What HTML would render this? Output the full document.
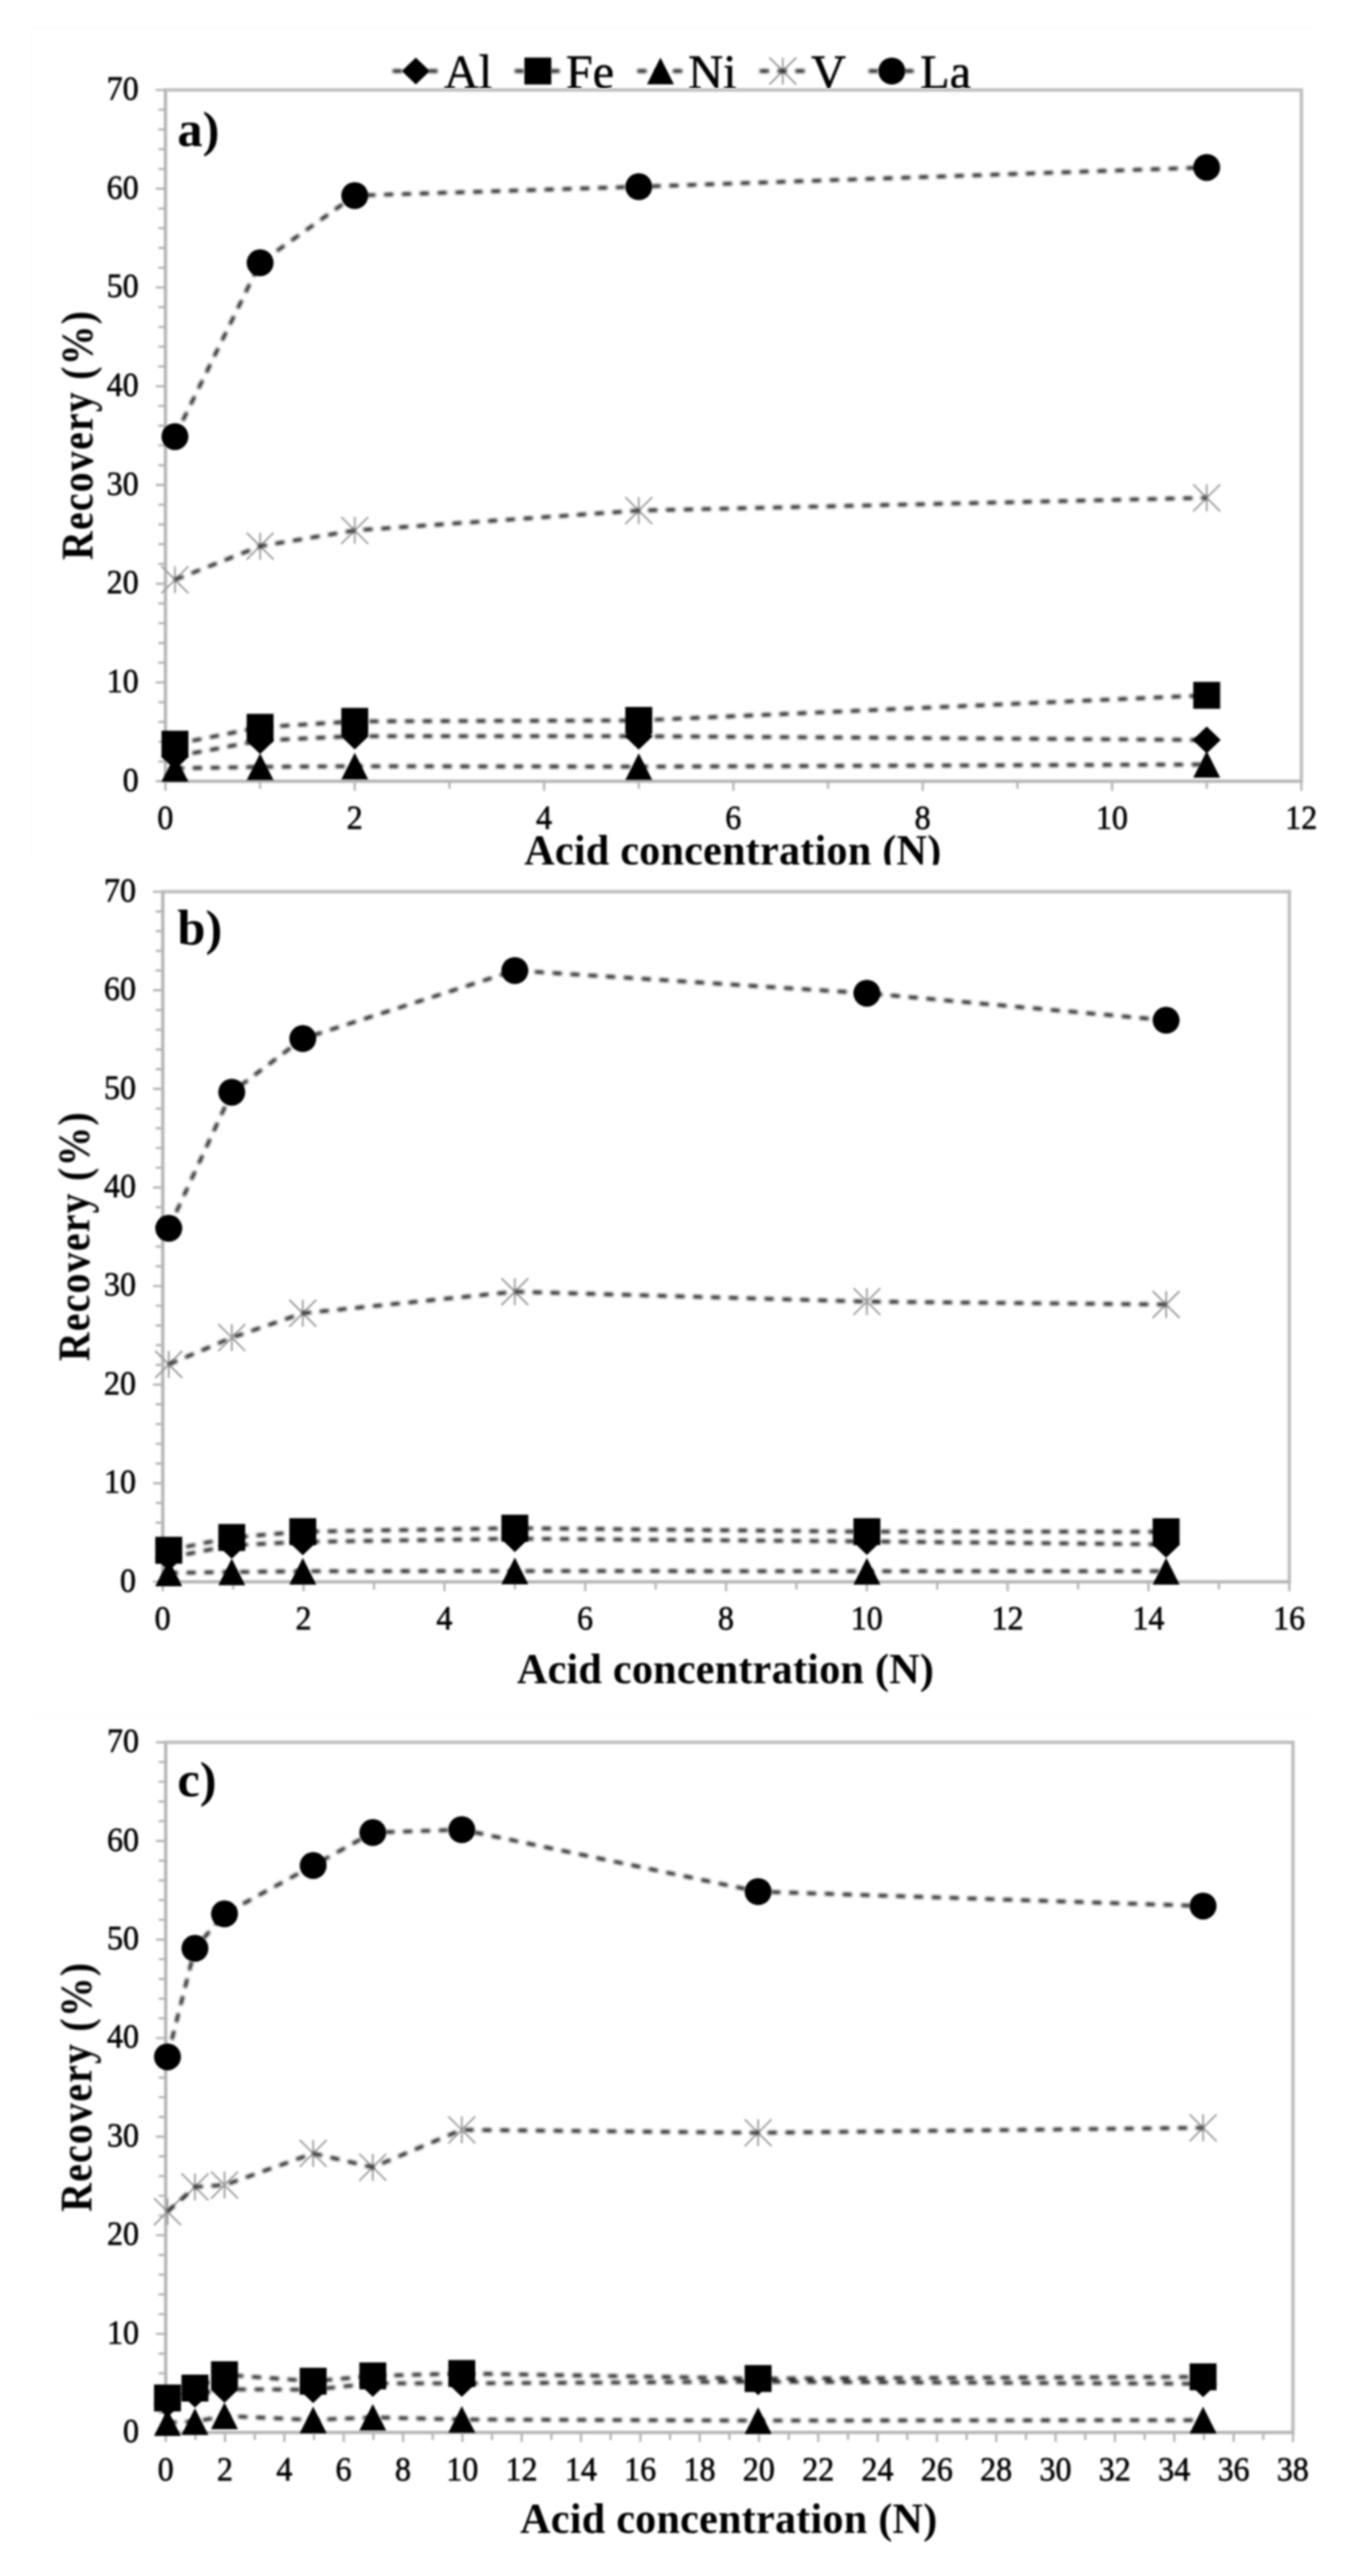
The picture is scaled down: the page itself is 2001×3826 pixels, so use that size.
<!DOCTYPE html>
<html lang="en"><head><meta charset="utf-8"><title>Recovery vs acid concentration</title>
<style>
html,body{margin:0;padding:0;background:#fff}
body{width:2001px;height:3826px;overflow:hidden}
svg{display:block}
.g1{filter:blur(1.7px)}
.g2{filter:blur(1.9px)}
text{font-family:"Liberation Serif","Times New Roman",Times,serif;fill:#000}
.tk{font-size:50px;fill:#000;stroke:#000;stroke-width:.9px}
.tt{font-size:62.5px;font-weight:bold;letter-spacing:.4px}
.pn{font-size:75px;font-weight:bold}
.lg{font-size:71.5px;stroke:#000;stroke-width:.8px}
.ax{stroke:#c0c0c0;stroke-width:5.2;fill:none}
.tc{stroke:#b6b6b6;stroke-width:3.4;fill:none}
.ln{stroke:#262626;stroke-width:5.3;stroke-dasharray:13.6 12.9;fill:none}
</style></head><body>
<svg width="2001" height="3826" viewBox="0 0 2001 3826">
<rect width="2001" height="3826" fill="#fff"/>
<defs><clipPath id="clipA"><rect x="0" y="0" width="2001" height="1284.5"/></clipPath><clipPath id="clipL"><rect x="0" y="0" width="2001" height="131.5"/></clipPath></defs>
<g class="g1" clip-path="url(#clipL)">
<path d="M1162.9 85.5V125.5 M1142.9 85.5L1182.9 125.5 M1142.9 125.5L1182.9 85.5" stroke="#9c9c9c" stroke-width="2.6" fill="none"/>
</g>
<g class="g2" clip-path="url(#clipL)">
<path class="ln" d="M583.4 105.5H651.4"/>
<path class="ln" d="M764.7 105.5H832.7"/>
<path class="ln" d="M946.8 105.5H1014.8"/>
<path class="ln" d="M1128.6 105.5H1196.6"/>
<path class="ln" d="M1290.5 105.5H1358.5"/>
</g>
<g class="g1" clip-path="url(#clipL)">
<path d="M617.7 85.5L638.5 105.5L617.7 125.5L596.9 105.5Z" fill="#000"/>
<rect x="779" y="85.5" width="40" height="40" fill="#000"/>
<path d="M981.1 85.5L1001.1 125.2L961.1 125.2Z" fill="#000"/>
<circle cx="1324.8" cy="105.5" r="20" fill="#000"/>
<text class="lg" x="659.5" y="130.5">Al</text>
<text class="lg" x="840.8" y="130.5">Fe</text>
<text class="lg" x="1022.5" y="130.5">Ni</text>
<text class="lg" x="1205" y="130.5">V</text>
<text class="lg" x="1367" y="130.5">La</text>
</g>
<g class="g1">
<g fill="none" stroke="#fcfcfc" stroke-width="1.6"><path d="M1957 41.6H47V1283"/><path d="M1957 2548.5H46.4V3800"/></g>
<rect class="ax" x="245.8" y="133.6" width="1687.4" height="1026.7"/>
<path d="M245.8 133.6V1160.3H1933.2" stroke="#adadad" stroke-width="1.8" fill="none"/>
<path class="tc" d="M231.3 1160.3H245.8M235.3 1131H245.8M235.3 1101.6H245.8M235.3 1072.3H245.8M235.3 1043H245.8M231.3 1013.6H245.8M235.3 984.3H245.8M235.3 955H245.8M235.3 925.6H245.8M235.3 896.3H245.8M231.3 867H245.8M235.3 837.6H245.8M235.3 808.3H245.8M235.3 779H245.8M235.3 749.6H245.8M231.3 720.3H245.8M235.3 691H245.8M235.3 661.6H245.8M235.3 632.3H245.8M235.3 602.9H245.8M231.3 573.6H245.8M235.3 544.3H245.8M235.3 514.9H245.8M235.3 485.6H245.8M235.3 456.3H245.8M231.3 426.9H245.8M235.3 397.6H245.8M235.3 368.3H245.8M235.3 338.9H245.8M235.3 309.6H245.8M231.3 280.3H245.8M235.3 250.9H245.8M235.3 221.6H245.8M235.3 192.3H245.8M235.3 162.9H245.8M231.3 133.6H245.8M245.8 1160.3V1174.5M386.4 1160.3V1171.6M527 1160.3V1174.5M667.7 1160.3V1171.6M808.3 1160.3V1174.5M948.9 1160.3V1171.6M1089.5 1160.3V1174.5M1230.1 1160.3V1171.6M1370.7 1160.3V1174.5M1511.4 1160.3V1171.6M1652 1160.3V1174.5M1792.6 1160.3V1171.6M1933.2 1160.3V1174.5"/>
<rect class="ax" x="241.8" y="1324.4" width="1673.5" height="1025"/>
<path d="M241.8 1324.4V2349.4H1915.3" stroke="#adadad" stroke-width="1.8" fill="none"/>
<path class="tc" d="M227.3 2349.4H241.8M231.3 2320.1H241.8M231.3 2290.8H241.8M231.3 2261.5H241.8M231.3 2232.3H241.8M227.3 2203H241.8M231.3 2173.7H241.8M231.3 2144.4H241.8M231.3 2115.1H241.8M231.3 2085.8H241.8M227.3 2056.5H241.8M231.3 2027.3H241.8M231.3 1998H241.8M231.3 1968.7H241.8M231.3 1939.4H241.8M227.3 1910.1H241.8M231.3 1880.8H241.8M231.3 1851.5H241.8M231.3 1822.3H241.8M231.3 1793H241.8M227.3 1763.7H241.8M231.3 1734.4H241.8M231.3 1705.1H241.8M231.3 1675.8H241.8M231.3 1646.5H241.8M227.3 1617.3H241.8M231.3 1588H241.8M231.3 1558.7H241.8M231.3 1529.4H241.8M231.3 1500.1H241.8M227.3 1470.8H241.8M231.3 1441.5H241.8M231.3 1412.3H241.8M231.3 1383H241.8M231.3 1353.7H241.8M227.3 1324.4H241.8M241.8 2349.4V2363.6M346.4 2349.4V2360.7M451 2349.4V2363.6M555.6 2349.4V2360.7M660.2 2349.4V2363.6M764.8 2349.4V2360.7M869.4 2349.4V2363.6M974 2349.4V2360.7M1078.6 2349.4V2363.6M1183.2 2349.4V2360.7M1287.8 2349.4V2363.6M1392.3 2349.4V2360.7M1496.9 2349.4V2363.6M1601.5 2349.4V2360.7M1706.1 2349.4V2363.6M1810.7 2349.4V2360.7M1915.3 2349.4V2363.6"/>
<rect class="ax" x="246.2" y="2587.8" width="1674.5" height="1025"/>
<path d="M246.2 2587.8V3612.8H1920.7" stroke="#adadad" stroke-width="1.8" fill="none"/>
<path class="tc" d="M231.7 3612.8H246.2M235.7 3583.5H246.2M235.7 3554.2H246.2M235.7 3524.9H246.2M235.7 3495.7H246.2M231.7 3466.4H246.2M235.7 3437.1H246.2M235.7 3407.8H246.2M235.7 3378.5H246.2M235.7 3349.2H246.2M231.7 3319.9H246.2M235.7 3290.7H246.2M235.7 3261.4H246.2M235.7 3232.1H246.2M235.7 3202.8H246.2M231.7 3173.5H246.2M235.7 3144.2H246.2M235.7 3114.9H246.2M235.7 3085.7H246.2M235.7 3056.4H246.2M231.7 3027.1H246.2M235.7 2997.8H246.2M235.7 2968.5H246.2M235.7 2939.2H246.2M235.7 2909.9H246.2M231.7 2880.7H246.2M235.7 2851.4H246.2M235.7 2822.1H246.2M235.7 2792.8H246.2M235.7 2763.5H246.2M231.7 2734.2H246.2M235.7 2704.9H246.2M235.7 2675.7H246.2M235.7 2646.4H246.2M235.7 2617.1H246.2M231.7 2587.8H246.2M246.2 3612.8V3627M290.3 3612.8V3624.1M334.3 3612.8V3627M378.4 3612.8V3624.1M422.5 3612.8V3627M466.5 3612.8V3624.1M510.6 3612.8V3627M554.7 3612.8V3624.1M598.7 3612.8V3627M642.8 3612.8V3624.1M686.9 3612.8V3627M730.9 3612.8V3624.1M775 3612.8V3627M819.1 3612.8V3624.1M863.1 3612.8V3627M907.2 3612.8V3624.1M951.3 3612.8V3627M995.3 3612.8V3624.1M1039.4 3612.8V3627M1083.5 3612.8V3624.1M1127.5 3612.8V3627M1171.6 3612.8V3624.1M1215.6 3612.8V3627M1259.7 3612.8V3624.1M1303.8 3612.8V3627M1347.8 3612.8V3624.1M1391.9 3612.8V3627M1436 3612.8V3624.1M1480 3612.8V3627M1524.1 3612.8V3624.1M1568.2 3612.8V3627M1612.2 3612.8V3624.1M1656.3 3612.8V3627M1700.4 3612.8V3624.1M1744.4 3612.8V3627M1788.5 3612.8V3624.1M1832.6 3612.8V3627M1876.6 3612.8V3624.1M1920.7 3612.8V3627"/>
<path d="M259.9 841.1V881.1 M239.9 841.1L279.9 881.1 M239.9 881.1L279.9 841.1" stroke="#9c9c9c" stroke-width="2.6" fill="none"/><path d="M386.4 791.2V831.2 M366.4 791.2L406.4 831.2 M366.4 831.2L406.4 791.2" stroke="#9c9c9c" stroke-width="2.6" fill="none"/><path d="M527 767.8V807.8 M507 767.8L547 807.8 M507 807.8L547 767.8" stroke="#9c9c9c" stroke-width="2.6" fill="none"/><path d="M948.9 738.3V778.3 M928.9 738.3L968.9 778.3 M928.9 778.3L968.9 738.3" stroke="#9c9c9c" stroke-width="2.6" fill="none"/><path d="M1792.6 719.4V759.4 M1772.6 719.4L1812.6 759.4 M1772.6 759.4L1812.6 719.4" stroke="#9c9c9c" stroke-width="2.6" fill="none"/>
<path d="M250.7 2006.5V2046.5 M230.7 2006.5L270.7 2046.5 M230.7 2046.5L270.7 2006.5" stroke="#9c9c9c" stroke-width="2.6" fill="none"/><path d="M344.3 1966.7V2006.7 M324.3 1966.7L364.3 2006.7 M324.3 2006.7L364.3 1966.7" stroke="#9c9c9c" stroke-width="2.6" fill="none"/><path d="M449.8 1930.5V1970.5 M429.8 1930.5L469.8 1970.5 M429.8 1970.5L469.8 1930.5" stroke="#9c9c9c" stroke-width="2.6" fill="none"/><path d="M764.8 1898.5V1938.5 M744.8 1898.5L784.8 1938.5 M744.8 1938.5L784.8 1898.5" stroke="#9c9c9c" stroke-width="2.6" fill="none"/><path d="M1287.8 1913.2V1953.2 M1267.8 1913.2L1307.8 1953.2 M1267.8 1953.2L1307.8 1913.2" stroke="#9c9c9c" stroke-width="2.6" fill="none"/><path d="M1732.3 1917.5V1957.5 M1712.3 1917.5L1752.3 1957.5 M1712.3 1957.5L1752.3 1917.5" stroke="#9c9c9c" stroke-width="2.6" fill="none"/>
<path d="M248.8 3264.8V3304.8 M228.8 3264.8L268.8 3304.8 M228.8 3304.8L268.8 3264.8" stroke="#9c9c9c" stroke-width="2.6" fill="none"/><path d="M289.6 3228.2V3268.2 M269.6 3228.2L309.6 3268.2 M269.6 3268.2L309.6 3228.2" stroke="#9c9c9c" stroke-width="2.6" fill="none"/><path d="M333.5 3225.3V3265.3 M313.5 3225.3L353.5 3265.3 M313.5 3265.3L353.5 3225.3" stroke="#9c9c9c" stroke-width="2.6" fill="none"/><path d="M465.2 3178.4V3218.4 M445.2 3178.4L485.2 3218.4 M445.2 3218.4L485.2 3178.4" stroke="#9c9c9c" stroke-width="2.6" fill="none"/><path d="M553.8 3198.9V3238.9 M533.8 3198.9L573.8 3238.9 M533.8 3238.9L573.8 3198.9" stroke="#9c9c9c" stroke-width="2.6" fill="none"/><path d="M686 3143.3V3183.3 M666 3143.3L706 3183.3 M666 3183.3L706 3143.3" stroke="#9c9c9c" stroke-width="2.6" fill="none"/><path d="M1126.2 3147.7V3187.7 M1106.2 3147.7L1146.2 3187.7 M1106.2 3187.7L1146.2 3147.7" stroke="#9c9c9c" stroke-width="2.6" fill="none"/><path d="M1787.2 3140.3V3180.3 M1767.2 3140.3L1807.2 3180.3 M1767.2 3180.3L1807.2 3140.3" stroke="#9c9c9c" stroke-width="2.6" fill="none"/>
</g>
<g class="g2">
<path class="ln" d="M259.9 1123.6L386.4 1099.9L527 1093.3L948.9 1093.4L1792.6 1099"/>
<path class="ln" d="M259.9 1105.3L386.4 1080.2L527 1071.4L948.9 1070L1792.6 1032.7"/>
<path class="ln" d="M259.9 1141.2L386.4 1139L527 1138L948.9 1138.7L1792.6 1135.4"/>
<path class="ln" d="M259.9 861.1L386.4 811.2L527 787.8L948.9 758.3L1792.6 739.4"/>
<path class="ln" d="M259.9 648.4L386.4 390.3L527 290.5L948.9 277.3L1792.6 248.7"/>
<path class="ln" d="M250.7 2313.5L344.3 2295.2L449.8 2290.1L764.8 2285.3L1287.8 2289.4L1732.3 2293.8"/>
<path class="ln" d="M250.7 2302.5L344.3 2283.5L449.8 2274.9L764.8 2269.7L1287.8 2274.9L1732.3 2275"/>
<path class="ln" d="M250.7 2336.2L344.3 2334.8L449.8 2333.7L764.8 2333.3L1287.8 2333.7L1732.3 2333.7"/>
<path class="ln" d="M250.7 2026.5L344.3 1986.7L449.8 1950.5L764.8 1918.5L1287.8 1933.2L1732.3 1937.5"/>
<path class="ln" d="M250.7 1824.3L344.3 1622.2L449.8 1542.6L764.8 1441.5L1287.8 1475.2L1732.3 1515.3"/>
<path class="ln" d="M248.8 3570.3L289.6 3556L333.5 3548.7L465.2 3549.2L553.8 3539.9L686 3539.9L1126.2 3537.4L1787.2 3540.5"/>
<path class="ln" d="M248.8 3561.6L289.6 3546.9L333.5 3527.1L465.2 3536.7L553.8 3528.8L686 3525.2L1126.2 3532.7L1787.2 3530.2"/>
<path class="ln" d="M248.8 3598.2L289.6 3596.7L333.5 3588.3L465.2 3594.2L553.8 3590.4L686 3593.5L1126.2 3595.2L1787.2 3594.5"/>
<path class="ln" d="M248.8 3284.8L289.6 3248.2L333.5 3245.3L465.2 3198.4L553.8 3218.9L686 3163.3L1126.2 3167.7L1787.2 3160.3"/>
<path class="ln" d="M248.8 3054.9L289.6 2893.8L333.5 2842.6L465.2 2770.8L553.8 2721.8L686 2717.5L1126.2 2809.5L1787.2 2830.9"/>
</g>
<g class="g1">
<path d="M259.9 1103.6L280.7 1123.6L259.9 1143.6L239.1 1123.6Z" fill="#000"/><path d="M386.4 1079.9L407.2 1099.9L386.4 1119.9L365.6 1099.9Z" fill="#000"/><path d="M527 1073.3L547.8 1093.3L527 1113.3L506.2 1093.3Z" fill="#000"/><path d="M948.9 1073.4L969.7 1093.4L948.9 1113.4L928.1 1093.4Z" fill="#000"/><path d="M1792.6 1079L1813.4 1099L1792.6 1119L1771.8 1099Z" fill="#000"/>
<rect x="239.9" y="1085.3" width="40" height="40" fill="#000"/><rect x="366.4" y="1060.2" width="40" height="40" fill="#000"/><rect x="507" y="1051.4" width="40" height="40" fill="#000"/><rect x="928.9" y="1050" width="40" height="40" fill="#000"/><rect x="1772.6" y="1012.7" width="40" height="40" fill="#000"/>
<path d="M259.9 1121.2L279.9 1160.9L239.9 1160.9Z" fill="#000"/><path d="M386.4 1119L406.4 1158.7L366.4 1158.7Z" fill="#000"/><path d="M527 1118L547 1157.7L507 1157.7Z" fill="#000"/><path d="M948.9 1118.7L968.9 1158.4L928.9 1158.4Z" fill="#000"/><path d="M1792.6 1115.4L1812.6 1155.1L1772.6 1155.1Z" fill="#000"/>
<circle cx="259.9" cy="648.4" r="20" fill="#000"/><circle cx="386.4" cy="390.3" r="20" fill="#000"/><circle cx="527" cy="290.5" r="20" fill="#000"/><circle cx="948.9" cy="277.3" r="20" fill="#000"/><circle cx="1792.6" cy="248.7" r="20" fill="#000"/>
<path d="M250.7 2293.5L271.5 2313.5L250.7 2333.5L229.9 2313.5Z" fill="#000"/><path d="M344.3 2275.2L365.1 2295.2L344.3 2315.2L323.5 2295.2Z" fill="#000"/><path d="M449.8 2270.1L470.6 2290.1L449.8 2310.1L429 2290.1Z" fill="#000"/><path d="M764.8 2265.3L785.6 2285.3L764.8 2305.3L744 2285.3Z" fill="#000"/><path d="M1287.8 2269.4L1308.6 2289.4L1287.8 2309.4L1267 2289.4Z" fill="#000"/><path d="M1732.3 2273.8L1753.1 2293.8L1732.3 2313.8L1711.5 2293.8Z" fill="#000"/>
<rect x="230.7" y="2282.5" width="40" height="40" fill="#000"/><rect x="324.3" y="2263.5" width="40" height="40" fill="#000"/><rect x="429.8" y="2254.9" width="40" height="40" fill="#000"/><rect x="744.8" y="2249.7" width="40" height="40" fill="#000"/><rect x="1267.8" y="2254.9" width="40" height="40" fill="#000"/><rect x="1712.3" y="2255" width="40" height="40" fill="#000"/>
<path d="M250.7 2316.2L270.7 2355.9L230.7 2355.9Z" fill="#000"/><path d="M344.3 2314.8L364.3 2354.5L324.3 2354.5Z" fill="#000"/><path d="M449.8 2313.7L469.8 2353.4L429.8 2353.4Z" fill="#000"/><path d="M764.8 2313.3L784.8 2353L744.8 2353Z" fill="#000"/><path d="M1287.8 2313.7L1307.8 2353.4L1267.8 2353.4Z" fill="#000"/><path d="M1732.3 2313.7L1752.3 2353.4L1712.3 2353.4Z" fill="#000"/>
<circle cx="250.7" cy="1824.3" r="20" fill="#000"/><circle cx="344.3" cy="1622.2" r="20" fill="#000"/><circle cx="449.8" cy="1542.6" r="20" fill="#000"/><circle cx="764.8" cy="1441.5" r="20" fill="#000"/><circle cx="1287.8" cy="1475.2" r="20" fill="#000"/><circle cx="1732.3" cy="1515.3" r="20" fill="#000"/>
<path d="M248.8 3550.3L269.6 3570.3L248.8 3590.3L228 3570.3Z" fill="#000"/><path d="M289.6 3536L310.4 3556L289.6 3576L268.8 3556Z" fill="#000"/><path d="M333.5 3528.7L354.3 3548.7L333.5 3568.7L312.7 3548.7Z" fill="#000"/><path d="M465.2 3529.2L486 3549.2L465.2 3569.2L444.4 3549.2Z" fill="#000"/><path d="M553.8 3519.9L574.6 3539.9L553.8 3559.9L533 3539.9Z" fill="#000"/><path d="M686 3519.9L706.8 3539.9L686 3559.9L665.2 3539.9Z" fill="#000"/><path d="M1126.2 3517.4L1147 3537.4L1126.2 3557.4L1105.4 3537.4Z" fill="#000"/><path d="M1787.2 3520.5L1808 3540.5L1787.2 3560.5L1766.4 3540.5Z" fill="#000"/>
<rect x="228.8" y="3541.6" width="40" height="40" fill="#000"/><rect x="269.6" y="3526.9" width="40" height="40" fill="#000"/><rect x="313.5" y="3507.1" width="40" height="40" fill="#000"/><rect x="445.2" y="3516.7" width="40" height="40" fill="#000"/><rect x="533.8" y="3508.8" width="40" height="40" fill="#000"/><rect x="666" y="3505.2" width="40" height="40" fill="#000"/><rect x="1106.2" y="3512.7" width="40" height="40" fill="#000"/><rect x="1767.2" y="3510.2" width="40" height="40" fill="#000"/>
<path d="M248.8 3578.2L268.8 3617.9L228.8 3617.9Z" fill="#000"/><path d="M289.6 3576.7L309.6 3616.4L269.6 3616.4Z" fill="#000"/><path d="M333.5 3568.3L353.5 3608L313.5 3608Z" fill="#000"/><path d="M465.2 3574.2L485.2 3613.9L445.2 3613.9Z" fill="#000"/><path d="M553.8 3570.4L573.8 3610.1L533.8 3610.1Z" fill="#000"/><path d="M686 3573.5L706 3613.2L666 3613.2Z" fill="#000"/><path d="M1126.2 3575.2L1146.2 3614.9L1106.2 3614.9Z" fill="#000"/><path d="M1787.2 3574.5L1807.2 3614.2L1767.2 3614.2Z" fill="#000"/>
<circle cx="248.8" cy="3054.9" r="20" fill="#000"/><circle cx="289.6" cy="2893.8" r="20" fill="#000"/><circle cx="333.5" cy="2842.6" r="20" fill="#000"/><circle cx="465.2" cy="2770.8" r="20" fill="#000"/><circle cx="553.8" cy="2721.8" r="20" fill="#000"/><circle cx="686" cy="2717.5" r="20" fill="#000"/><circle cx="1126.2" cy="2809.5" r="20" fill="#000"/><circle cx="1787.2" cy="2830.9" r="20" fill="#000"/>
<text class="tk" text-anchor="end" transform="translate(206 1174.6) scale(.95 1)">0</text>
<text class="tk" text-anchor="end" transform="translate(206 1027.9) scale(.95 1)">10</text>
<text class="tk" text-anchor="end" transform="translate(206 881.3) scale(.95 1)">20</text>
<text class="tk" text-anchor="end" transform="translate(206 734.6) scale(.95 1)">30</text>
<text class="tk" text-anchor="end" transform="translate(206 587.9) scale(.95 1)">40</text>
<text class="tk" text-anchor="end" transform="translate(206 441.2) scale(.95 1)">50</text>
<text class="tk" text-anchor="end" transform="translate(206 294.6) scale(.95 1)">60</text>
<text class="tk" text-anchor="end" transform="translate(206 147.9) scale(.95 1)">70</text>
<text class="tk" text-anchor="middle" transform="translate(245.6 1231.3) scale(.95 1)">0</text>
<text class="tk" text-anchor="middle" transform="translate(526.8 1231.3) scale(.95 1)">2</text>
<text class="tk" text-anchor="middle" transform="translate(808.1 1231.3) scale(.95 1)">4</text>
<text class="tk" text-anchor="middle" transform="translate(1089.3 1231.3) scale(.95 1)">6</text>
<text class="tk" text-anchor="middle" transform="translate(1370.5 1231.3) scale(.95 1)">8</text>
<text class="tk" text-anchor="middle" transform="translate(1651.8 1231.3) scale(.95 1)">10</text>
<text class="tk" text-anchor="middle" transform="translate(1933 1231.3) scale(.95 1)">12</text>
<text class="tt" text-anchor="middle" x="1088.7" y="1283.8" clip-path="url(#clipA)">Acid concentration (N)</text>
<text class="tt" style="font-size:59px;letter-spacing:1.9px" text-anchor="middle" transform="translate(137.8 645.9) rotate(-90) scale(1,1.133)">Recovery (%)</text>
<text class="pn" x="263.5" y="217.1">a)</text>
<text class="tk" text-anchor="end" transform="translate(202.1 2363.7) scale(.95 1)">0</text>
<text class="tk" text-anchor="end" transform="translate(202.1 2217.3) scale(.95 1)">10</text>
<text class="tk" text-anchor="end" transform="translate(202.1 2070.8) scale(.95 1)">20</text>
<text class="tk" text-anchor="end" transform="translate(202.1 1924.4) scale(.95 1)">30</text>
<text class="tk" text-anchor="end" transform="translate(202.1 1778) scale(.95 1)">40</text>
<text class="tk" text-anchor="end" transform="translate(202.1 1631.6) scale(.95 1)">50</text>
<text class="tk" text-anchor="end" transform="translate(202.1 1485.1) scale(.95 1)">60</text>
<text class="tk" text-anchor="end" transform="translate(202.1 1338.7) scale(.95 1)">70</text>
<text class="tk" text-anchor="middle" transform="translate(241.7 2420.4) scale(.95 1)">0</text>
<text class="tk" text-anchor="middle" transform="translate(450.8 2420.4) scale(.95 1)">2</text>
<text class="tk" text-anchor="middle" transform="translate(660 2420.4) scale(.95 1)">4</text>
<text class="tk" text-anchor="middle" transform="translate(869.2 2420.4) scale(.95 1)">6</text>
<text class="tk" text-anchor="middle" transform="translate(1078.4 2420.4) scale(.95 1)">8</text>
<text class="tk" text-anchor="middle" transform="translate(1287.6 2420.4) scale(.95 1)">10</text>
<text class="tk" text-anchor="middle" transform="translate(1496.7 2420.4) scale(.95 1)">12</text>
<text class="tk" text-anchor="middle" transform="translate(1705.9 2420.4) scale(.95 1)">14</text>
<text class="tk" text-anchor="middle" transform="translate(1915.1 2420.4) scale(.95 1)">16</text>
<text class="tt" text-anchor="middle" x="1077.8" y="2499.8">Acid concentration (N)</text>
<text class="tt" style="font-size:59px;letter-spacing:1.9px" text-anchor="middle" transform="translate(133 1835.9) rotate(-90) scale(1,1.133)">Recovery (%)</text>
<text class="pn" x="263.5" y="1403.1">b)</text>
<text class="tk" text-anchor="end" transform="translate(206.4 3627.1) scale(.95 1)">0</text>
<text class="tk" text-anchor="end" transform="translate(206.4 3480.7) scale(.95 1)">10</text>
<text class="tk" text-anchor="end" transform="translate(206.4 3334.2) scale(.95 1)">20</text>
<text class="tk" text-anchor="end" transform="translate(206.4 3187.8) scale(.95 1)">30</text>
<text class="tk" text-anchor="end" transform="translate(206.4 3041.4) scale(.95 1)">40</text>
<text class="tk" text-anchor="end" transform="translate(206.4 2895) scale(.95 1)">50</text>
<text class="tk" text-anchor="end" transform="translate(206.4 2748.5) scale(.95 1)">60</text>
<text class="tk" text-anchor="end" transform="translate(206.4 2602.1) scale(.95 1)">70</text>
<text class="tk" text-anchor="middle" transform="translate(246 3683.8) scale(.95 1)">0</text>
<text class="tk" text-anchor="middle" transform="translate(334.1 3683.8) scale(.95 1)">2</text>
<text class="tk" text-anchor="middle" transform="translate(422.3 3683.8) scale(.95 1)">4</text>
<text class="tk" text-anchor="middle" transform="translate(510.4 3683.8) scale(.95 1)">6</text>
<text class="tk" text-anchor="middle" transform="translate(598.5 3683.8) scale(.95 1)">8</text>
<text class="tk" text-anchor="middle" transform="translate(686.7 3683.8) scale(.95 1)">10</text>
<text class="tk" text-anchor="middle" transform="translate(774.8 3683.8) scale(.95 1)">12</text>
<text class="tk" text-anchor="middle" transform="translate(862.9 3683.8) scale(.95 1)">14</text>
<text class="tk" text-anchor="middle" transform="translate(951.1 3683.8) scale(.95 1)">16</text>
<text class="tk" text-anchor="middle" transform="translate(1039.2 3683.8) scale(.95 1)">18</text>
<text class="tk" text-anchor="middle" transform="translate(1127.3 3683.8) scale(.95 1)">20</text>
<text class="tk" text-anchor="middle" transform="translate(1215.4 3683.8) scale(.95 1)">22</text>
<text class="tk" text-anchor="middle" transform="translate(1303.6 3683.8) scale(.95 1)">24</text>
<text class="tk" text-anchor="middle" transform="translate(1391.7 3683.8) scale(.95 1)">26</text>
<text class="tk" text-anchor="middle" transform="translate(1479.8 3683.8) scale(.95 1)">28</text>
<text class="tk" text-anchor="middle" transform="translate(1568 3683.8) scale(.95 1)">30</text>
<text class="tk" text-anchor="middle" transform="translate(1656.1 3683.8) scale(.95 1)">32</text>
<text class="tk" text-anchor="middle" transform="translate(1744.2 3683.8) scale(.95 1)">34</text>
<text class="tk" text-anchor="middle" transform="translate(1832.4 3683.8) scale(.95 1)">36</text>
<text class="tk" text-anchor="middle" transform="translate(1920.5 3683.8) scale(.95 1)">38</text>
<text class="tt" text-anchor="middle" x="1082.7" y="3761.9">Acid concentration (N)</text>
<text class="tt" style="font-size:59px;letter-spacing:1.9px" text-anchor="middle" transform="translate(136.2 3099.3) rotate(-90) scale(1,1.133)">Recovery (%)</text>
<text class="pn" x="263.5" y="2668.3">c)</text>
</g>
</svg>
</body></html>
